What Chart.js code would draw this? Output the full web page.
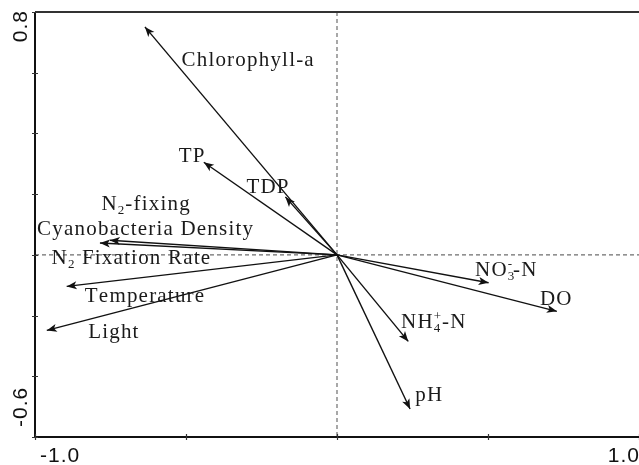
<!DOCTYPE html>
<html>
<head>
<meta charset="utf-8">
<script src="https://cdn.jsdelivr.net/npm/chart.js@4"></script>
<style>
  body { margin: 0; background: #fff; }
</style>
</head>
<body>
<canvas id="rdaChart" width="639" height="465"></canvas>
<script>
// arrow tips (RDA axis 1 / axis 2 scores)
const variables = ["Chlorophyll-a", "TP", "TDP", "N2-fixing Cyanobacteria Density", "N2 Fixation Rate",
    "Temperature", "Light", "NO3--N", "DO", "NH4+-N", "pH"];
const axis1 = [-0.636, -0.441, -0.171, -0.752, -0.785, -0.895, -0.961, 0.502, 0.728, 0.236, 0.242];
const axis2 = [0.751, 0.305, 0.191, 0.048, 0.039, -0.104, -0.249, -0.092, -0.186, -0.285, -0.508];

// text labels ("_" = subscript char, "^" = superscript char), left/baseline in axis units
const labelText = ["Chlorophyll-a", "TP", "TDP", "N_2-fixing", "Cyanobacteria Density", "N_2 Fixation Rate",
    "Temperature", "Light", "NO_3^--N", "DO", "NH_4^+-N", "pH"];
const labelX = [-0.515, -0.524, -0.300, -0.780, -0.993, -0.945, -0.835, -0.824, 0.457, 0.672, 0.212, 0.259];
const labelY = [0.622, 0.305, 0.203, 0.147, 0.065, -0.031, -0.156, -0.275, -0.068, -0.164, -0.240, -0.480];

// axis ticks
const xTicks = [-1.0, -0.5, 0, 0.5, 1.0];
const yTicks = [-0.6, -0.4, -0.2, 0, 0.2, 0.4, 0.6, 0.8];
const xTickLabels = ["-1.0", "1.0"];
const yTickLabels = ["0.8", "-0.6"];

function drawRich(ctx, str, x, y) {
    let cx = x;
    for (let i = 0; i < str.length; i++) {
        let ch = str[i];
        if ((ch === "_" || ch === "^") && i + 1 < str.length) {
            const s = str[i + 1];
            ctx.save();
            ctx.font = "13px 'Liberation Serif'";
            ctx.letterSpacing = "0px";
            ctx.fillText(s, cx, ch === "_" ? y + 4 : y - 8);
            const w = ctx.measureText(s).width;
            ctx.restore();
            // sub and sup share space when stacked (NO3- / NH4+)
            const next = str[i + 2];
            if (!((ch === "_") && (next === "^"))) cx += w + 1;
            i++;
        } else {
            ctx.fillText(ch, cx, y);
            cx += ctx.measureText(ch).width;
        }
    }
}

const biplotPlugin = {
    id: "biplot",
    beforeDatasetsDraw(chart) {
        const { ctx, chartArea, scales } = chart;
        const x0 = scales.x.getPixelForValue(0);
        const y0 = scales.y.getPixelForValue(0);
        ctx.save();
        ctx.strokeStyle = "#6e6e6e";
        ctx.lineWidth = 1.2;
        ctx.setLineDash([4, 3]);
        ctx.beginPath();
        ctx.moveTo(chartArea.left, y0);
        ctx.lineTo(chartArea.right, y0);
        ctx.moveTo(x0, chartArea.top);
        ctx.lineTo(x0, chartArea.bottom);
        ctx.stroke();
        ctx.restore();
    },
    afterDatasetsDraw(chart) {
        const { ctx, chartArea, scales } = chart;
        const xs = scales.x, ys = scales.y;
        const ox = xs.getPixelForValue(0), oy = ys.getPixelForValue(0);

        // arrow heads
        ctx.save();
        ctx.fillStyle = "#111";
        axis1.forEach((v, i) => {
            const tx = xs.getPixelForValue(v), ty = ys.getPixelForValue(axis2[i]);
            const a = Math.atan2(ty - oy, tx - ox);
            ctx.save();
            ctx.translate(tx, ty);
            ctx.rotate(a);
            ctx.beginPath();
            ctx.moveTo(0, 0);
            ctx.lineTo(-10, -4);
            ctx.lineTo(-7.5, 0);
            ctx.lineTo(-10, 4);
            ctx.closePath();
            ctx.fill();
            ctx.restore();
        });
        ctx.restore();

        // variable labels
        ctx.save();
        ctx.fillStyle = "#1a1a1a";
        ctx.font = "21px 'Liberation Serif'";
        ctx.letterSpacing = "1.2px";
        ctx.textBaseline = "alphabetic";
        labelText.forEach((t, i) => {
            drawRich(ctx, t, xs.getPixelForValue(labelX[i]), ys.getPixelForValue(labelY[i]));
        });
        ctx.restore();

        // axes frame
        ctx.save();
        ctx.strokeStyle = "#111";
        ctx.lineWidth = 2;
        ctx.beginPath();
        ctx.moveTo(chartArea.left, chartArea.top);
        ctx.lineTo(chartArea.left, chartArea.bottom);
        ctx.lineTo(chartArea.right + 1, chartArea.bottom);
        ctx.stroke();
        ctx.strokeStyle = "#333";
        ctx.beginPath();
        ctx.moveTo(chartArea.left, chartArea.top);
        ctx.lineTo(chartArea.right + 1, chartArea.top);
        ctx.stroke();

        ctx.lineWidth = 1.2;
        ctx.beginPath();
        yTicks.forEach(v => {
            const py = Math.round(ys.getPixelForValue(v)) + 0.5;
            ctx.moveTo(chartArea.left - 3, py);
            ctx.lineTo(chartArea.left + 3, py);
        });
        xTicks.forEach(v => {
            const px = Math.round(xs.getPixelForValue(v)) + 0.5;
            ctx.moveTo(px, chartArea.bottom - 3);
            ctx.lineTo(px, chartArea.bottom + 3);
        });
        ctx.stroke();
        ctx.restore();

        // tick labels, only at the axis ends
        ctx.save();
        ctx.fillStyle = "#111";
        ctx.font = "21px 'Liberation Sans'";
        ctx.letterSpacing = "1px";
        ctx.textBaseline = "alphabetic";
        ctx.textAlign = "left";
        ctx.fillText(xTickLabels[0], xs.getPixelForValue(-1.0) + 5, chartArea.bottom + 25);
        ctx.textAlign = "right";
        ctx.fillText(xTickLabels[1], xs.getPixelForValue(1.0) + 1, chartArea.bottom + 25);

        ctx.save();
        ctx.translate(27, ys.getPixelForValue(0.8));
        ctx.rotate(-Math.PI / 2);
        ctx.textAlign = "right";
        ctx.fillText(yTickLabels[0], 2, 0);
        ctx.restore();

        ctx.save();
        ctx.translate(27, ys.getPixelForValue(-0.6));
        ctx.rotate(-Math.PI / 2);
        ctx.textAlign = "left";
        ctx.fillText(yTickLabels[1], 10, 0);
        ctx.restore();
        ctx.restore();
    }
};

const ctx = document.getElementById("rdaChart").getContext("2d");

new Chart(ctx, {
    type: "scatter",
    data: {
        datasets: variables.map((name, i) => ({
            label: name,
            data: [{ x: 0, y: 0 }, { x: axis1[i], y: axis2[i] }],
            showLine: true,
            borderColor: "#111",
            borderWidth: 1.4,
            pointRadius: 0,
            clip: false
        }))
    },
    options: {
        responsive: false,
        animation: false,
        layout: { padding: { left: 35, top: 12, right: 0, bottom: 28 } },
        plugins: {
            legend: { display: false },
            tooltip: { enabled: false }
        },
        scales: {
            x: { type: "linear", min: -1.0, max: 1.0, display: false },
            y: { type: "linear", min: -0.6, max: 0.8, display: false }
        }
    },
    plugins: [biplotPlugin]
});
</script>
</body>
</html>
